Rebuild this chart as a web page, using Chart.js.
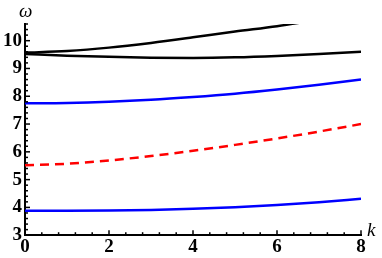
<!DOCTYPE html>
<html>
<head>
<meta charset="utf-8">
<script src="https://cdn.jsdelivr.net/npm/chart.js@4/dist/chart.umd.min.js"></script>
<style>
  html, body { margin: 0; padding: 0; background: #fff; }
  #wrap { width: 382px; height: 258px; }
</style>
</head>
<body>
<div id="wrap"><canvas id="c"></canvas></div>
<script>
// 數據
var kValues = [0, 1, 2, 3, 4, 5, 6, 7, 8];
var blueLow = [3.88, 3.88, 3.89, 3.91, 3.95, 4.01, 4.09, 4.19, 4.31];
var redDashed = [5.52, 5.57, 5.69, 5.85, 6.04, 6.25, 6.48, 6.73, 7.0];
var blueMid = [7.75, 7.76, 7.8, 7.87, 7.97, 8.09, 8.24, 8.41, 8.6];
var blackLow = [9.52, 9.46, 9.42, 9.39, 9.38, 9.4, 9.45, 9.52, 9.6];
var blackUp = [9.57, 9.63, 9.75, 9.92, 10.12, 10.33, 10.52, 10.76, 11.0];

var xTicks = [0, 2, 4, 6, 8];
var yTicks = [3, 4, 5, 6, 7, 8, 9, 10];

function pts(arr) {
    return kValues.map((k, i) => ({ x: k, y: arr[i] }));
}

function mkSet(arr, color, dash) {
    return {
        data: pts(arr),
        borderColor: color,
        borderWidth: 2.5,
        borderDash: dash || [],
        pointRadius: 0,
        fill: false,
        cubicInterpolationMode: 'monotone'
    };
}

var tickFont = { family: 'Liberation Serif', weight: 'bold', size: 19 };

// 內側刻度和軸標題
var axisExtras = {
    id: 'axisExtras',
    afterDraw(chart) {
        var ctx = chart.ctx;
        var xs = chart.scales.x, ys = chart.scales.y;
        var a = chart.chartArea;
        ctx.save();
        ctx.strokeStyle = '#000';
        ctx.lineWidth = 1.5;
        for (var i = 0; i <= 20; i++) {
            var v = i * 0.4;
            var px = xs.getPixelForValue(v);
            var len = (i % 5 === 0) ? 5 : 3;
            ctx.beginPath();
            ctx.moveTo(px, a.bottom);
            ctx.lineTo(px, a.bottom - len);
            ctx.stroke();
        }
        for (var j = 0; j <= 38; j++) {
            var yv = 3 + j * 0.2;
            var py = ys.getPixelForValue(yv);
            var ylen = (j % 5 === 0) ? 5 : 3;
            ctx.beginPath();
            ctx.moveTo(a.left, py);
            ctx.lineTo(a.left + ylen, py);
            ctx.stroke();
        }
        ctx.fillStyle = '#000';
        ctx.font = 'italic 19px "Liberation Serif"';
        ctx.textAlign = 'left';
        ctx.textBaseline = 'middle';
        ctx.fillText('ω', a.left - 6, 12);
        ctx.fillText('k', a.right + 6, a.bottom - 4);
        ctx.restore();
    }
};

new Chart(document.getElementById('c'), {
    type: 'line',
    data: {
        datasets: [
            mkSet(blackUp, '#000000'),
            mkSet(blackLow, '#000000'),
            mkSet(blueMid, '#0000ff'),
            mkSet(redDashed, '#ff0000', [9, 6]),
            mkSet(blueLow, '#0000ff')
        ]
    },
    options: {
        responsive: true,
        maintainAspectRatio: false,
        animation: false,
        layout: { padding: { left: 0, right: 21, top: 24, bottom: 0 } },
        plugins: { legend: { display: false }, tooltip: { enabled: false } },
        scales: {
            x: {
                type: 'linear',
                min: 0,
                max: 8,
                grid: { display: false, drawTicks: false },
                border: { display: true, color: '#000', width: 2 },
                afterBuildTicks: (s) => { s.ticks = xTicks.map(v => ({ value: v })); },
                ticks: { color: '#000', font: tickFont, padding: 0, maxRotation: 0 }
            },
            y: {
                type: 'linear',
                min: 3,
                max: 10.6,
                grid: { display: false, drawTicks: false },
                border: { display: true, color: '#000', width: 2 },
                afterBuildTicks: (s) => { s.ticks = yTicks.map(v => ({ value: v })); },
                ticks: { color: '#000', font: tickFont, padding: 3 }
            }
        }
    },
    plugins: [axisExtras]
});
</script>
</body>
</html>
